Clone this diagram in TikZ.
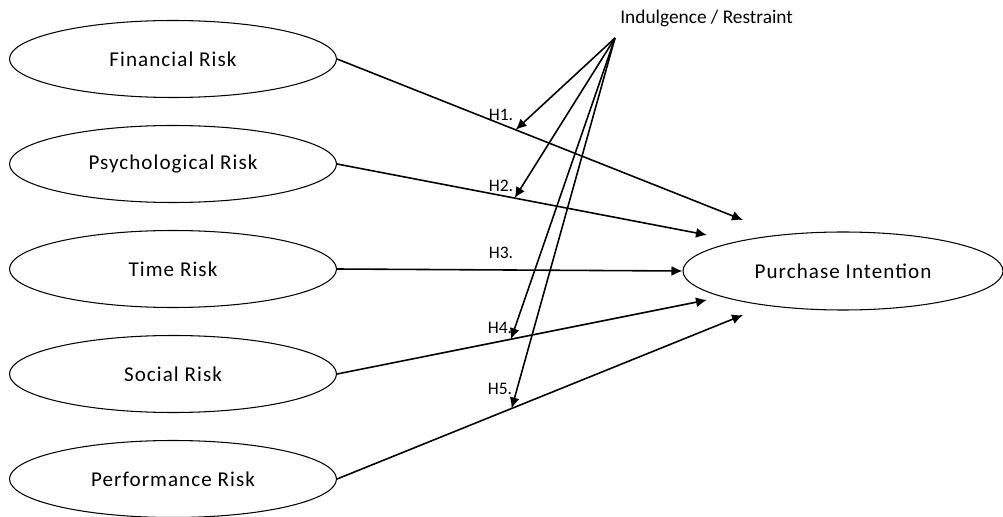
\documentclass[tikz,border=0pt]{standalone}
\usepackage{fontspec}
\setmainfont{Carlito}
\newfontfamily\spacedfont{Carlito}[LetterSpace=5]
\usetikzlibrary{arrows.meta,shapes.geometric}
\tikzset{%
  >={Latex[width=2mm,length=2.2mm]},
        base/.style = {ellipse, draw=black, line width=0.6pt, inner sep=0pt,
                       minimum width=6.54cm, minimum height=1.54cm,
                       text centered, font=\spacedfont\fontsize{12}{14}\selectfont},
  risk/.style   = {base},
  target/.style = {base, minimum width=6.4cm, minimum height=1.56cm},
  hyp/.style    = {inner sep=0pt, font=\fontsize{10}{12}\selectfont},
  link/.style   = {->, line width=0.9pt},
}

\begin{document}
\begin{tikzpicture}[node distance=2.1cm]
  \useasboundingbox (0,0) rectangle (20.06,-10.34);

  \node (onFinancial)     [risk] at (3.46,-1.18)            {Financial Risk};
  \node (onPsychological) [risk, below of=onFinancial]     {Psychological Risk};
  \node (onTime)          [risk, below of=onPsychological] {Time Risk};
  \node (onSocial)        [risk, below of=onTime]          {Social Risk};
  \node (onPerformance)   [risk, below of=onSocial]        {Performance Risk};
  \node (onPurchase)      [target] at (16.86,-5.42)        {Purchase Intention};
  \node (onIndulgence)    [hyp, anchor=west, font=\fontsize{11}{13}\selectfont]
                          at (12.4,-0.36)                  {Indulgence / Restraint};

  \coordinate (onModerator)     at (12.3,-0.76);
  \coordinate (toFinancial)     at (14.86,-4.40);
  \coordinate (toPsychological) at (14.14,-4.70);
  \coordinate (toSocial)        at (14.14,-6.00);
  \coordinate (toPerformance)   at (14.86,-6.30);

  \draw[link] (onFinancial.east)     -- (toFinancial)     coordinate[pos=0.44] (atFinancial);
  \draw[link] (onPsychological.east) -- (toPsychological) coordinate[pos=0.48] (atPsychological);
  \draw[link] (onTime.east)          -- (onPurchase.west);
  \draw[link] (onSocial.east)        -- (toSocial)        coordinate[pos=0.47] (atSocial);
  \draw[link] (onPerformance.east)   -- (toPerformance)   coordinate[pos=0.43] (atPerformance);

  \draw[link] (onModerator) -- (atFinancial);
  \draw[link] (onModerator) -- (atPsychological);
  \draw[link] (onModerator) -- (atSocial);
  \draw[link] (onModerator) -- (atPerformance);

  \node (hOne)   [hyp] at (10.02,-2.30) {H1.};
  \node (hTwo)   [hyp] at (10.02,-3.72) {H2.};
  \node (hThree) [hyp] at (10.02,-5.06) {H3.};
  \node (hFour)  [hyp] at (10.00,-6.56) {H4.};
  \node (hFive)  [hyp] at (10.00,-7.78) {H5.};
\end{tikzpicture}
\end{document}
